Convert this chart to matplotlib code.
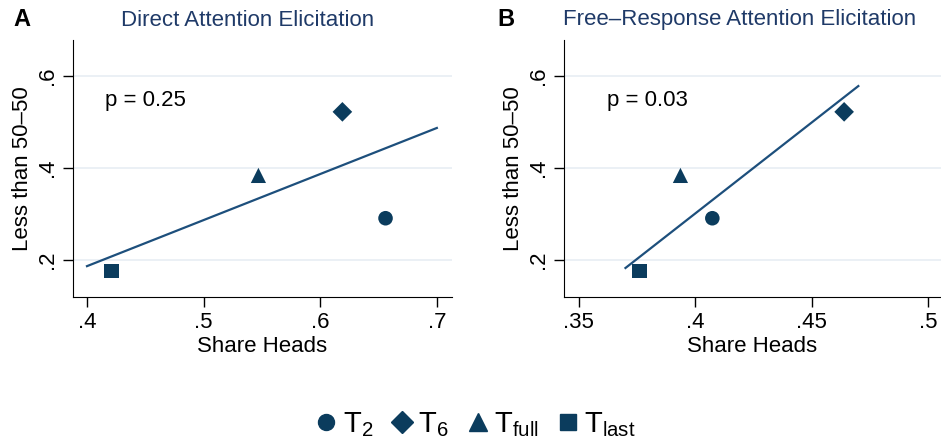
import numpy as np
import matplotlib
matplotlib.use("Agg")
import matplotlib.pyplot as plt
from matplotlib.lines import Line2D

plt.rcParams['font.family'] = ['Liberation Sans', 'DejaVu Sans']
plt.rcParams['mathtext.fontset'] = 'custom'
plt.rcParams['mathtext.rm'] = 'Liberation Sans'
plt.rcParams['mathtext.it'] = 'Liberation Sans'
plt.rcParams['mathtext.sf'] = 'Liberation Sans'

#%% Data
labels = [r"T$_\mathrm{2}$", r"T$_\mathrm{6}$", r"T$_{\mathrm{full}}$", r"T$_{\mathrm{last}}$"]
markers = ['o', 'D', '^', 's']

# panel A: direct attention elicitation
xa = [0.656, 0.619, 0.547, 0.421]
ya = [0.291, 0.522, 0.384, 0.176]
fit_xa = [0.40, 0.70]
fit_ya = [0.187, 0.487]
p_a = "p = 0.25"

# panel B: free-response attention elicitation
xb = [0.4073, 0.4639, 0.3936, 0.376]
yb = [0.291, 0.522, 0.384, 0.176]
fit_xb = [0.370, 0.470]
fit_yb = [0.183, 0.578]
p_b = "p = 0.03"

yticks = [0.2, 0.4, 0.6]
ytick_labels = ['.2', '.4', '.6']
xticks_a = [0.4, 0.5, 0.6, 0.7]
xtick_labels_a = ['.4', '.5', '.6', '.7']
xticks_b = [0.35, 0.40, 0.45, 0.50]
xtick_labels_b = ['.35', '.4', '.45', '.5']

#%% Styling
mcol = '#0b3c5d'
lcol = '#1d4f7c'
gcol = '#e8eef3'
tcol = '#1f3a68'
W, H = 941, 446

fig = plt.figure(figsize=(W/100, H/100), dpi=100)

def add_ax(l, r, t, b):
    return fig.add_axes([l/W, 1-b/H, (r-l)/W, (b-t)/H])

axA = add_ax(73, 452, 40, 297)
axB = add_ax(564, 941, 40, 297)

def panel(ax, x, y, fx, fy, ptxt, xt, xtl, xlim, ptx):
    ax.plot(fx, fy, color=lcol, lw=1.6, zorder=2)
    sizes = [110, 100, 120, 110]
    for xi, yi, m, s in zip(x, y, markers, sizes):
        ax.scatter(xi, yi, marker=m, s=s, color=mcol, edgecolors='none', zorder=3)
    ax.set_xlim(*xlim)
    ax.set_ylim(0.12, 0.678)
    ax.set_yticks(yticks)
    ax.set_yticklabels(ytick_labels, rotation=90, va='center')
    ax.set_xticks(xt)
    ax.set_xticklabels(xtl)
    ax.tick_params(labelsize=16, length=7, width=1, direction='out', pad=4)
    ax.grid(axis='y', color=gcol, lw=1.2)
    ax.set_axisbelow(True)
    for s in ['top', 'right']:
        ax.spines[s].set_visible(False)
    ax.set_xlabel("Share Heads", fontsize=16, labelpad=2)
    ax.set_ylabel("Less than 50–50", fontsize=16, labelpad=3)
    ax.text(ptx, 0.5457, ptxt, fontsize=16, va='center', ha='left')

panel(axA, xa, ya, fit_xa, fit_ya, p_a, xticks_a, xtick_labels_a, (0.388, 0.713), 0.4154)
panel(axB, xb, yb, fit_xb, fit_yb, p_b, xticks_b, xtick_labels_b, (0.3436, 0.5055), 0.362)

fig.text(248/W, 1-20/H, "Direct Attention Elicitation", fontsize=16, color=tcol, ha='center', va='center')
fig.text(740/W, 1-20/H, "Free–Response Attention Elicitation", fontsize=16, color=tcol, ha='center', va='center')
fig.text(13/W, 1-20/H, "A", fontsize=17, fontweight='bold', ha='left', va='center')
fig.text(497/W, 1-20/H, "B", fontsize=17, fontweight='bold', ha='left', va='center')

handles = [Line2D([], [], marker=m, ls='none', color=mcol, markersize=ms)
           for m, ms in zip(markers, [11.5, 11.5, 12.5, 11.5])]
fig.legend(handles, labels, loc='center', bbox_to_anchor=(475/W, 1-425/H), ncol=4,
           frameon=False, prop={'family': 'Liberation Sans', 'size': 21},
           handletextpad=0.15, columnspacing=0.6, handlelength=0.8)

fig.savefig("out.png", dpi=100)
